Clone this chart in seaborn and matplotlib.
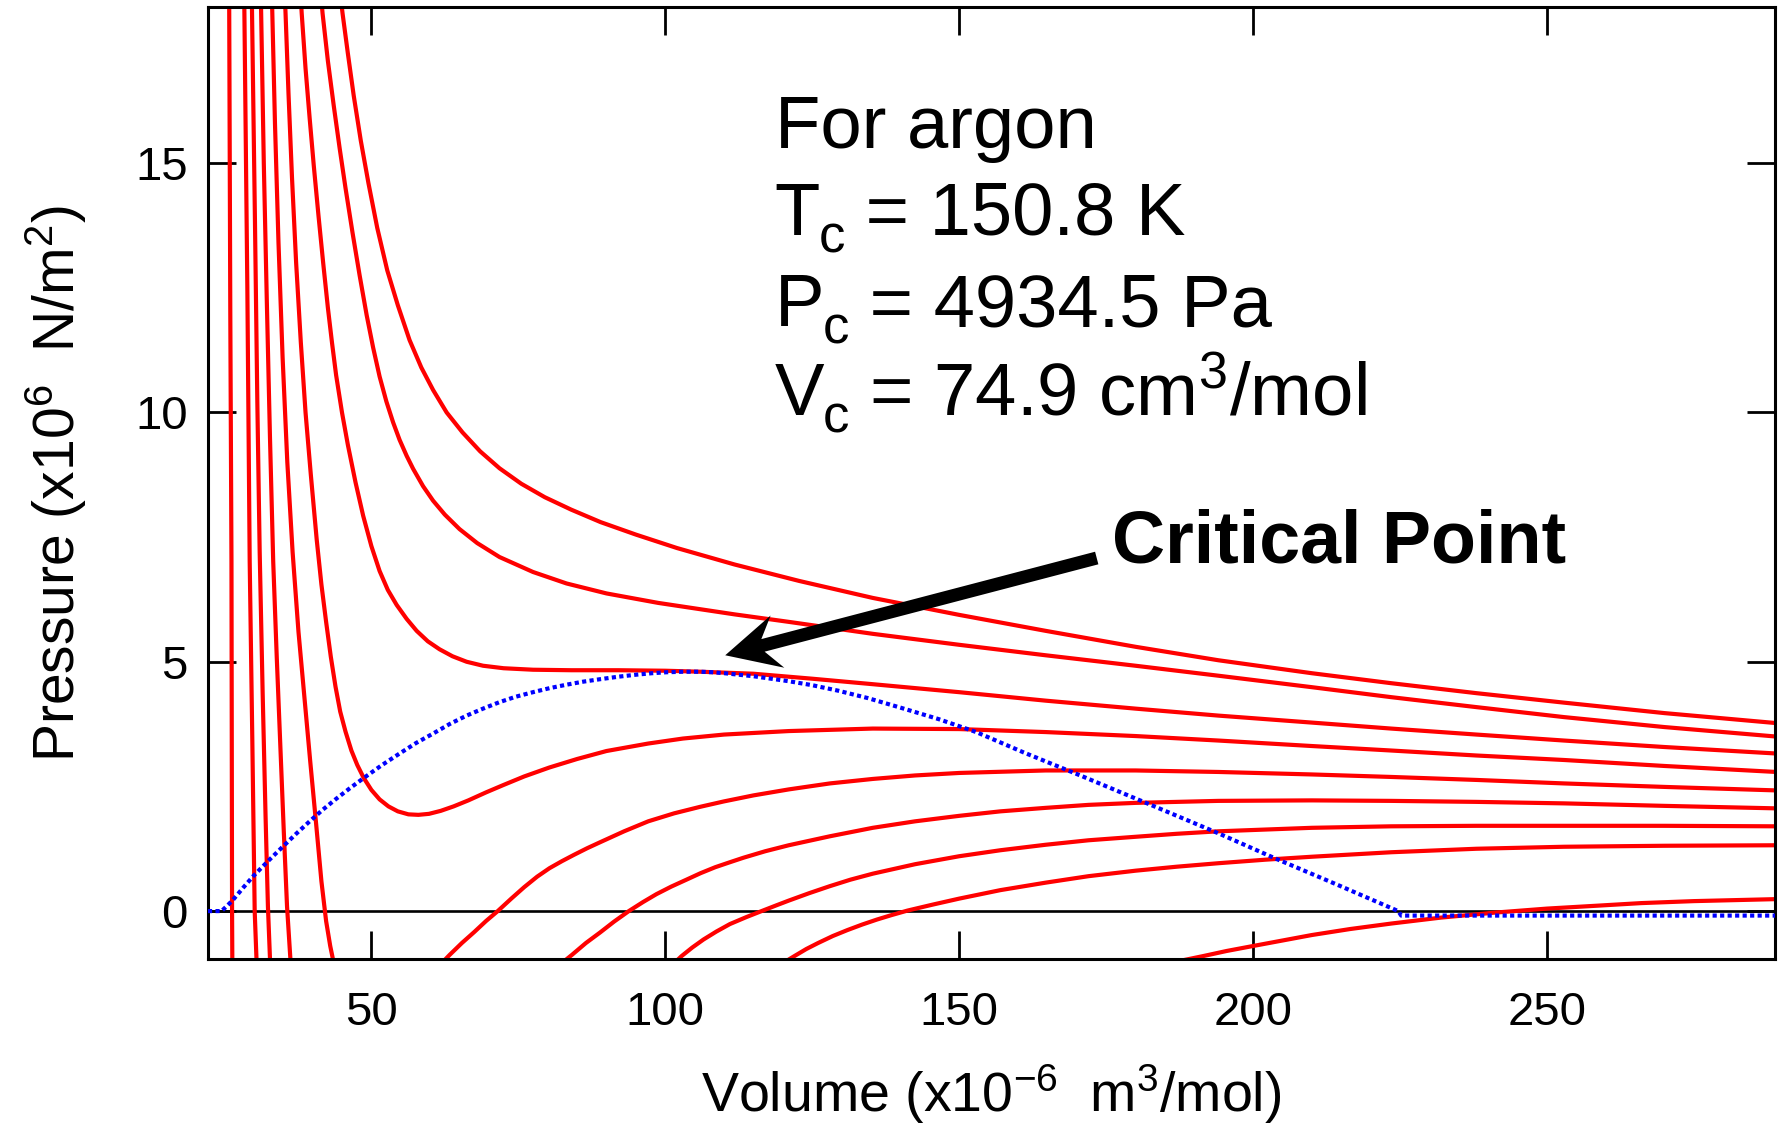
import numpy as np
import pandas as pd
import matplotlib
matplotlib.use("Agg")
import matplotlib.pyplot as plt
from matplotlib.patches import Polygon
import seaborn as sns

# van der Waals isotherms for argon
# V in 1e-6 m^3/mol, P in 1e6 N/m^2
iso1_v = [44.7, 45.1, 46.0, 47.0, 48.2, 49.5, 51.0, 52.7, 54.5, 56.5, 58.5, 60.5, 62.8, 65.5,
          68.5, 71.8, 75.5, 79.5, 84.0, 89.0, 95.0, 102.0, 111.8, 122.8, 135.3, 150.0, 164.7,
          180.0, 194.1, 210.0, 223.5, 238.0, 252.9, 270.0, 289.0]
iso1_p = [18.4, 18.0, 17.2, 16.35, 15.45, 14.6, 13.7, 12.85, 12.15, 11.45, 10.9, 10.45, 10.0, 9.6,
          9.22, 8.88, 8.57, 8.30, 8.05, 7.80, 7.55, 7.28, 6.95, 6.62, 6.28, 5.94, 5.62,
          5.30, 5.03, 4.77, 4.57, 4.37, 4.18, 3.97, 3.77]

iso2_v = [41.4, 41.7, 42.6, 43.6, 44.6, 45.6, 46.8, 48.0, 49.2, 50.3, 51.4, 52.55, 53.7, 54.8,
          56.0, 57.1, 58.8, 60.5, 62.5, 65.0, 68.0, 71.8, 77.5, 83.2, 90.0, 98.8, 111.8, 121.0,
          135.3, 150.0, 164.7, 180.0, 194.1, 210.0, 223.5, 238.0, 252.9, 270.0, 289.0]
iso2_p = [18.4, 18.0, 17.05, 16.15, 15.3, 14.5, 13.6, 12.75, 11.95, 11.3, 10.72, 10.22, 9.8, 9.45,
          9.13, 8.87, 8.52, 8.23, 7.95, 7.66, 7.38, 7.10, 6.80, 6.57, 6.37, 6.18, 5.95, 5.80,
          5.56, 5.34, 5.13, 4.92, 4.72, 4.49, 4.29, 4.09, 3.89, 3.69, 3.50]

# critical isotherm
iso3_v = [37.9, 38.15, 38.8, 39.5, 40.2, 41.0, 41.8, 42.6, 43.3, 44.0, 45.0, 46.0, 47.3, 48.6,
          50.0, 51.4, 52.8, 54.3, 56.0, 57.7, 59.6, 61.6, 63.8, 66.2, 69.0, 72.5, 77.5, 84.0,
          92.0, 100.0, 106.0, 115.0, 125.0, 135.3, 150.0, 164.7, 180.0, 194.1, 210.0, 223.5,
          238.0, 252.9, 270.0, 289.0]
iso3_p = [18.5, 18.0, 16.9, 15.9, 14.95, 13.95, 13.0, 12.1, 11.4, 10.75, 10.0, 9.35, 8.6, 7.93,
          7.32, 6.82, 6.44, 6.14, 5.86, 5.62, 5.41, 5.25, 5.11, 5.00, 4.92, 4.87, 4.84, 4.83,
          4.83, 4.82, 4.80, 4.76, 4.66, 4.55, 4.39, 4.22, 4.06, 3.92, 3.78, 3.66,
          3.54, 3.42, 3.29, 3.16]

iso4_v = [35.2, 35.4, 35.9, 36.5, 37.2, 38.0, 38.8, 39.7, 40.7, 41.5, 42.3, 43.1, 43.9, 44.7,
          45.6, 46.6, 47.6, 48.7, 50.0, 51.4, 52.9, 54.5, 56.3, 58.0, 59.8, 61.8, 64.0, 66.5,
          69.5, 72.5, 76.0, 80.3, 85.0, 90.0, 97.1, 103.0, 110.0, 121.0, 135.3, 150.0, 164.7,
          180.0, 194.1, 210.0, 223.5, 238.0, 252.9, 270.0, 289.0]
iso4_p = [18.6, 18.0, 16.4, 14.7, 13.0, 11.4, 10.0, 8.75, 7.45, 6.55, 5.8, 5.1, 4.5, 4.0,
          3.6, 3.22, 2.93, 2.67, 2.43, 2.24, 2.10, 2.00, 1.94, 1.93, 1.95, 2.01, 2.10, 2.22,
          2.38, 2.53, 2.70, 2.88, 3.05, 3.21, 3.36, 3.46, 3.54, 3.61, 3.66, 3.65, 3.59,
          3.51, 3.42, 3.31, 3.22, 3.12, 3.03, 2.91, 2.79]

# colder isotherms: steep liquid branch on the left, vapour branch on the right
iso5_left_v = [33.0, 33.15, 33.6, 34.2, 34.9, 35.7, 36.6, 37.6, 38.6, 39.6, 40.6, 41.5, 42.3, 43.0, 43.7]
iso5_left_p = [18.7, 18.0, 15.8, 13.4, 11.1, 9.0, 7.2, 5.6, 4.3, 3.0, 1.75, 0.6, -0.2, -0.7, -1.1]
iso5_right_v = [61.5, 63.3, 65.4, 67.5, 69.5, 71.5, 73.8, 76.0, 78.2, 80.3, 82.4, 84.5, 86.7, 88.9,
                93.0, 97.1, 101.5, 105.9, 110.0, 115.0, 121.0, 128.0, 135.3, 142.5, 150.0, 164.7,
                180.0, 194.1, 210.0, 223.5, 238.0, 252.9, 270.0, 289.0]
iso5_right_p = [-1.1, -0.88, -0.64, -0.42, -0.2, 0.0, 0.25, 0.48, 0.69, 0.86, 1.0, 1.13, 1.26, 1.38,
                1.60, 1.80, 1.96, 2.09, 2.20, 2.32, 2.44, 2.56, 2.65, 2.72, 2.77, 2.82,
                2.82, 2.79, 2.74, 2.69, 2.63, 2.56, 2.49, 2.42]

iso6_left_v = [31.15, 31.25, 31.7, 32.2, 32.75, 33.3, 33.9, 34.5, 35.1, 35.65, 36.3]
iso6_left_p = [18.7, 18.0, 15.0, 12.3, 9.5, 7.01, 5.1, 3.35, 1.6, 0.1, -1.1]
iso6_right_v = [81.8, 84.1, 86.5, 88.9, 91.3, 93.8, 96.2, 98.5, 101.0, 103.6, 106.0, 108.5, 111.0,
                113.3, 117.0, 121.0, 128.0, 135.3, 142.5, 150.0, 157.0, 164.7, 172.0, 180.0,
                194.1, 210.0, 223.5, 238.0, 252.9, 270.0, 289.0]
iso6_right_p = [-1.1, -0.88, -0.64, -0.43, -0.21, 0.0, 0.18, 0.34, 0.49, 0.63, 0.76, 0.88, 0.98,
                1.07, 1.20, 1.32, 1.50, 1.67, 1.80, 1.91, 2.00, 2.07, 2.13, 2.17,
                2.21, 2.22, 2.21, 2.19, 2.16, 2.11, 2.06]

iso7_left_v = [29.65, 29.7, 30.2, 30.6, 31.0, 31.5, 32.0, 32.4, 32.8]
iso7_left_p = [18.5, 18.0, 13.8, 10.2, 7.2, 4.4, 1.9, 0.1, -1.1]
iso7_right_v = [101.0, 102.8, 104.6, 106.5, 108.7, 111.0, 113.8, 116.6, 119.0, 121.0, 124.5, 128.0,
                131.5, 135.3, 142.5, 150.0, 157.0, 164.7, 172.0, 180.0, 187.0, 194.1, 210.0,
                223.5, 238.0, 252.9, 270.0, 289.0]
iso7_right_p = [-1.1, -0.9, -0.73, -0.57, -0.41, -0.26, -0.12, 0.01, 0.12, 0.21, 0.36, 0.50,
                0.63, 0.75, 0.94, 1.10, 1.22, 1.33, 1.42, 1.49, 1.55, 1.60, 1.67,
                1.70, 1.71, 1.71, 1.71, 1.70]

iso8_left_v = [28.35, 28.4, 28.9, 29.3, 29.75, 30.15, 30.5]
iso8_left_p = [18.5, 18.0, 12.5, 7.01, 3.4, 0.0, -1.1]
iso8_right_v = [119.2, 122.0, 124.0, 126.0, 128.5, 131.0, 133.5, 136.0, 138.5, 141.2, 145.5, 150.0,
                157.0, 164.7, 172.0, 180.0, 187.0, 194.1, 202.0, 210.0, 223.5, 238.0, 252.9,
                270.0, 289.0]
iso8_right_p = [-1.1, -0.9, -0.76, -0.64, -0.5, -0.38, -0.27, -0.17, -0.08, 0.01, 0.13, 0.25,
                0.42, 0.57, 0.70, 0.81, 0.89, 0.96, 1.03, 1.09, 1.18, 1.25, 1.29,
                1.31, 1.32]

iso9_left_v = [25.8, 26.0, 26.2, 26.3, 26.35]
iso9_left_p = [18.6, 12.0, 7.01, 0.0, -1.1]
iso9_right_v = [187.5, 191.6, 195.5, 200.0, 205.0, 210.0, 216.5, 223.5, 232.0, 241.2, 250.0,
                258.8, 266.0, 275.0, 282.0, 289.0]
iso9_right_p = [-1.0, -0.9, -0.8, -0.7, -0.59, -0.48, -0.36, -0.25, -0.13, -0.03, 0.05,
                0.11, 0.16, 0.20, 0.22, 0.24]

# blue dotted boundary of the two-phase region
dome_v = [22.2, 24.5, 25.5, 26.5, 28.2, 29.9, 32.4, 35.0, 37.2, 39.5, 41.7, 44.0, 46.3, 48.6,
          51.7, 54.8, 57.6, 60.5, 63.3, 66.2, 69.0, 71.8, 74.6, 77.5, 80.3, 83.2, 86.0, 88.9,
          92.0, 95.0, 97.7, 100.3, 103.0, 105.9, 108.0, 110.1, 112.5, 115.0, 118.0, 121.0,
          125.0, 129.4, 134.5, 140.0, 146.5, 152.9, 161.0, 170.6, 182.4, 194.1, 203.5, 214.1,
          224.7, 225.2, 289.0]
dome_p = [0.0, 0.0, 0.11, 0.23, 0.47, 0.70, 1.00, 1.30, 1.55, 1.80, 2.03, 2.25, 2.46, 2.66,
          2.92, 3.16, 3.37, 3.56, 3.75, 3.92, 4.06, 4.19, 4.30, 4.39, 4.47, 4.54, 4.60, 4.65,
          4.70, 4.74, 4.77, 4.79, 4.80, 4.80, 4.79, 4.77, 4.74, 4.71, 4.66, 4.61,
          4.53, 4.42, 4.27, 4.08, 3.85, 3.59, 3.18, 2.72, 2.14, 1.56, 1.07, 0.54,
          0.0, -0.09, -0.09]

x_ticks = [50, 100, 150, 200, 250]
y_ticks = [0, 5, 10, 15]

branches = [
    ("iso1", iso1_v, iso1_p), ("iso2", iso2_v, iso2_p), ("iso3", iso3_v, iso3_p),
    ("iso4", iso4_v, iso4_p),
    ("iso5a", iso5_left_v, iso5_left_p), ("iso5b", iso5_right_v, iso5_right_p),
    ("iso6a", iso6_left_v, iso6_left_p), ("iso6b", iso6_right_v, iso6_right_p),
    ("iso7a", iso7_left_v, iso7_left_p), ("iso7b", iso7_right_v, iso7_right_p),
    ("iso8a", iso8_left_v, iso8_left_p), ("iso8b", iso8_right_v, iso8_right_p),
    ("iso9a", iso9_left_v, iso9_left_p), ("iso9b", iso9_right_v, iso9_right_p),
]
iso_df = pd.concat([pd.DataFrame({"V": v, "P": p, "branch": name}) for name, v, p in branches],
                   ignore_index=True)
dome_df = pd.DataFrame({"V": dome_v, "P": dome_p})

sns.set_style("ticks")
plt.rcParams['font.family'] = ['Liberation Sans', 'DejaVu Sans']
plt.rcParams['mathtext.fontset'] = 'custom'
plt.rcParams['mathtext.rm'] = 'Liberation Sans'
plt.rcParams['mathtext.it'] = 'Liberation Sans:italic'
plt.rcParams['mathtext.bf'] = 'Liberation Sans:bold'
plt.rcParams['mathtext.default'] = 'rm'
for key in ['text.color', 'axes.labelcolor', 'xtick.color', 'ytick.color', 'axes.edgecolor']:
    plt.rcParams[key] = 'black'

fig = plt.figure(figsize=(17.82, 11.35), dpi=100)
ax = fig.add_axes([0.1167, 0.1551, 0.8794, 0.8383])

ax.axhline(0, color="black", lw=1.9, zorder=1)
sns.lineplot(data=iso_df, x="V", y="P", units="branch", estimator=None, sort=False,
             color="red", linewidth=3.0, ax=ax, legend=False, zorder=2)
sns.lineplot(data=dome_df, x="V", y="P", estimator=None, sort=False, color="blue",
             linewidth=3.0, linestyle=(0, (1, 0.8)), ax=ax, legend=False, zorder=3)

ax.set_xlim(22.2, 288.8)
ax.set_ylim(-0.96, 18.12)
ax.set_xticks(x_ticks)
ax.set_yticks(y_ticks)
ax.tick_params(axis="both", direction="in", length=20, width=2, top=True, right=True,
               labelsize=34, color="black", labelcolor="black")
ax.tick_params(axis="x", pad=23)
ax.tick_params(axis="y", pad=14.5)
for s in ax.spines.values():
    s.set_linewidth(2.2)
    s.set_color("black")

ax.set_xlabel(r"Volume (x10$^{-6}$  m$^{3}$/mol)", fontsize=40, labelpad=20)
ax.set_ylabel(r"Pressure (x10$^{6}$  N/m$^{2}$)", fontsize=41, labelpad=33)

# info block: big letter, big lowered subscript, then the rest of the line
renderer = fig.canvas.get_renderer()
big, small, drop = 53.5, 38, 12.5


def sub_line(x, y, main, sub, rest):
    t1 = ax.text(x, y, main, fontsize=big, ha="left", va="baseline", zorder=6)
    w1 = t1.get_window_extent(renderer).width * 72 / fig.dpi
    t2 = ax.annotate(sub, (x, y), xytext=(w1 - 1, -drop), textcoords="offset points",
                     fontsize=small, ha="left", va="baseline", zorder=6)
    w2 = t2.get_window_extent(renderer).width * 72 / fig.dpi
    ax.annotate(rest, (x, y), xytext=(w1 + w2 - 1, 0), textcoords="offset points",
                fontsize=big, ha="left", va="baseline", zorder=6)


ax.text(118.6, 15.3, "For argon", fontsize=big, ha="left", va="baseline", zorder=6)
sub_line(118.6, 13.56, "T", "c", " = 150.8 K")
sub_line(118.6, 11.73, "P", "c", " = 4934.5 Pa")
sub_line(118.6, 9.95, "V", "c", r" = 74.9 cm$^3$/mol")
ax.text(176.0, 6.99, "Critical Point", fontsize=53, fontweight="bold", ha="left",
        va="baseline", zorder=6)


# thick arrow with a notched head, built in pixel space
def notched_arrow(ax, tail, tip, shaft=13, head_len=54, head_half=27, notch=15):
    t = ax.transData.transform(tail)
    h = ax.transData.transform(tip)
    d = h - t
    u = d / np.hypot(*d)
    n = np.array([-u[1], u[0]])
    base = h - u * (head_len - notch)
    pts = [t + n * shaft / 2, base + n * shaft / 2, h - u * head_len + n * head_half, h,
           h - u * head_len - n * head_half, base - n * shaft / 2, t - n * shaft / 2]
    pts = ax.transData.inverted().transform(np.array(pts))
    ax.add_patch(Polygon(pts, closed=True, facecolor="black", edgecolor="none", zorder=5))


notched_arrow(ax, (173.4, 7.08), (110.2, 5.13))

fig.savefig("out.png", dpi=100)
